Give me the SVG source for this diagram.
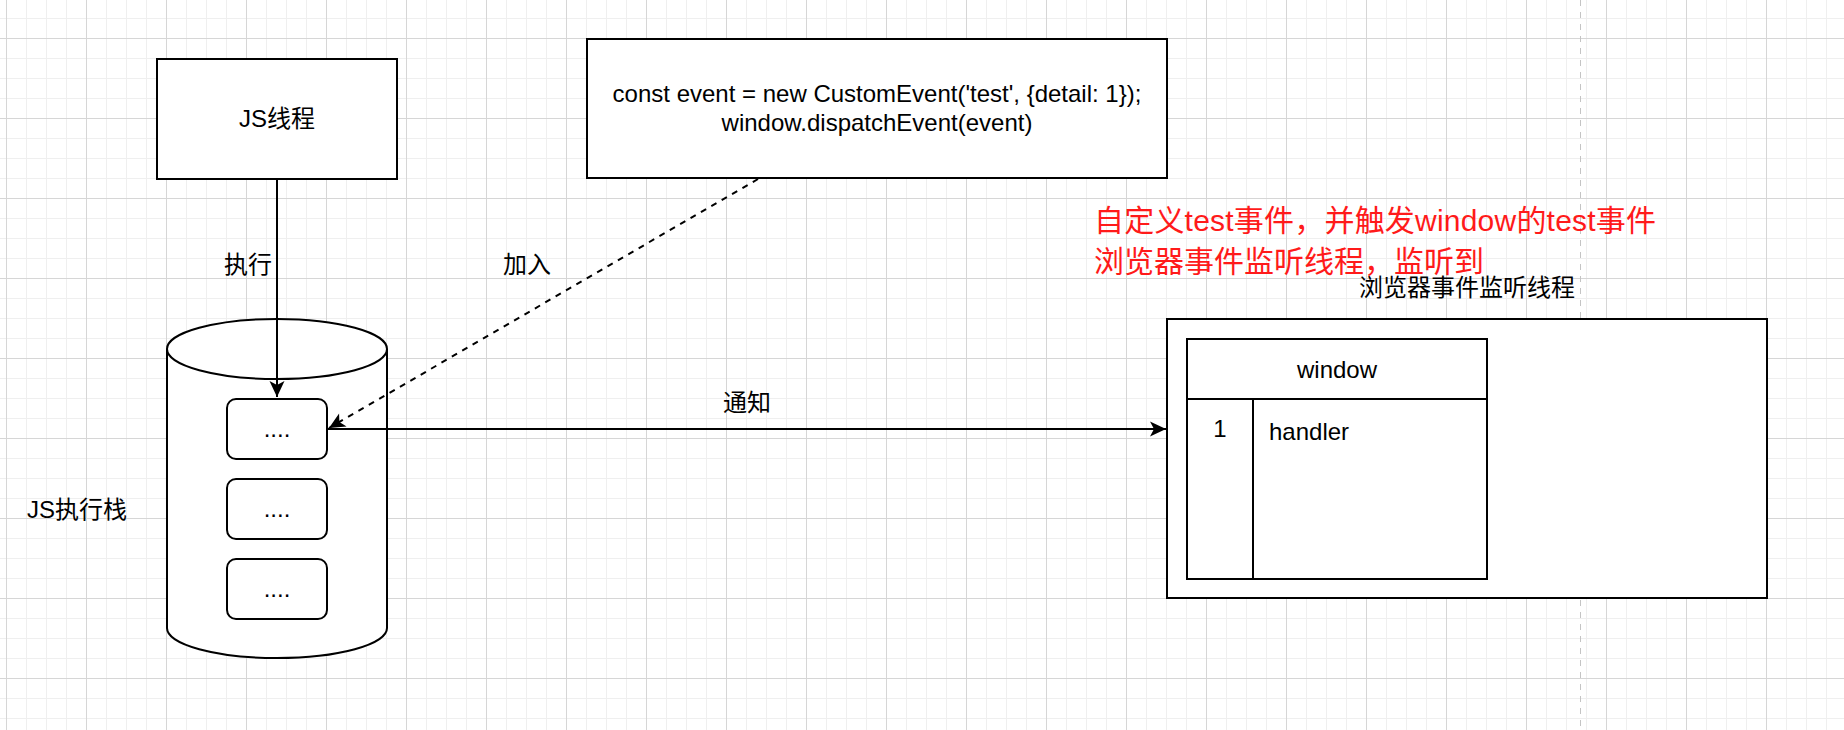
<svg xmlns="http://www.w3.org/2000/svg" width="1844" height="730" viewBox="0 0 1844 730">
<style>
text{font-family:"Liberation Sans","Noto Sans CJK SC",sans-serif;font-size:24px;fill:#000}
.mid{text-anchor:middle}
.red{fill:#ff1a1a;font-size:30px}
.box{fill:#fff;stroke:#000;stroke-width:2}
.ln{fill:none;stroke:#000;stroke-width:2}
</style>
<defs>
<pattern id="minor" width="20" height="20" patternUnits="userSpaceOnUse" x="6" y="18">
<path d="M0.5,0V20M0,0.5H20" stroke="#efefef" stroke-width="1" fill="none"/>
</pattern>
<pattern id="major" width="80" height="80" patternUnits="userSpaceOnUse" x="6" y="38">
<path d="M0.5,0V80M0,0.5H80" stroke="#d6d6d6" stroke-width="1" fill="none"/>
</pattern>
<marker id="arr" viewBox="-17 -8 18 16" refX="0" refY="0" markerWidth="18" markerHeight="16" markerUnits="userSpaceOnUse" orient="auto">
<path d="M0,0L-16,-7.5L-12,0L-16,7.5Z" fill="#000"/>
</marker>
</defs>
<rect width="1844" height="730" fill="#fff"/>
<rect width="1844" height="730" fill="url(#minor)"/>
<rect width="1844" height="730" fill="url(#major)"/>
<line x1="1580.5" y1="0" x2="1580.5" y2="730" stroke="#c4c4c4" stroke-width="1" stroke-dasharray="6 6"/>

<g id="js-thread">
<rect class="box" x="157" y="59" width="240" height="120"/>
<text class="mid" x="277" y="127">JS线程</text>
</g>

<g id="custom-event">
<rect class="box" x="587" y="39" width="580" height="139"/>
<text class="mid" x="877" y="102">const event = new CustomEvent('test', {detail: 1});</text>
<text class="mid" x="877" y="131">window.dispatchEvent(event)</text>
</g>

<g id="js-stack">
<path class="box" d="M167,349A110,30 0 0 1 387,349L387,628A110,30 0 0 1 167,628Z"/>
<path class="ln" d="M167,349A110,30 0 0 0 387,349"/>
</g>
<g id="stack-item-1">
<rect class="box" x="227" y="399" width="100" height="60" rx="9"/>
<text class="mid" x="277" y="437">....</text>
</g>
<g id="stack-item-2">
<rect class="box" x="227" y="479" width="100" height="60" rx="9"/>
<text class="mid" x="277" y="517">....</text>
</g>
<g id="stack-item-3">
<rect class="box" x="227" y="559" width="100" height="60" rx="9"/>
<text class="mid" x="277" y="597">....</text>
</g>
<g id="js-stack-label">
<text x="27" y="518">JS执行栈</text>
</g>

<g id="note">
<text class="red" x="1094" y="231" textLength="562" lengthAdjust="spacing">自定义test事件，并触发window的test事件</text>
<text class="red" x="1094" y="272">浏览器事件监听线程，监听到</text>
</g>

<g id="browser-listener">
<text class="mid" x="1467" y="296">浏览器事件监听线程</text>
<rect class="box" x="1167" y="319" width="600" height="279"/>
</g>
<g id="window-table">
<rect class="box" x="1187" y="339" width="300" height="240"/>
<line class="ln" x1="1187" y1="399" x2="1487" y2="399"/>
<line class="ln" x1="1253" y1="399" x2="1253" y2="579"/>
<text class="mid" x="1337" y="378">window</text>
<text class="mid" x="1220" y="437">1</text>
<text x="1269" y="440">handler</text>
</g>

<g id="connectors">
<line class="ln" x1="277" y1="179" x2="277" y2="397" marker-end="url(#arr)"/>
<line class="ln" x1="758" y1="179" x2="329" y2="428" stroke-dasharray="6 6" marker-end="url(#arr)"/>
<line class="ln" x1="327" y1="429" x2="1166" y2="429" marker-end="url(#arr)"/>
<text class="mid" x="248" y="273">执行</text>
<text class="mid" x="527" y="273">加入</text>
<text class="mid" x="747" y="411">通知</text>
</g>
</svg>
